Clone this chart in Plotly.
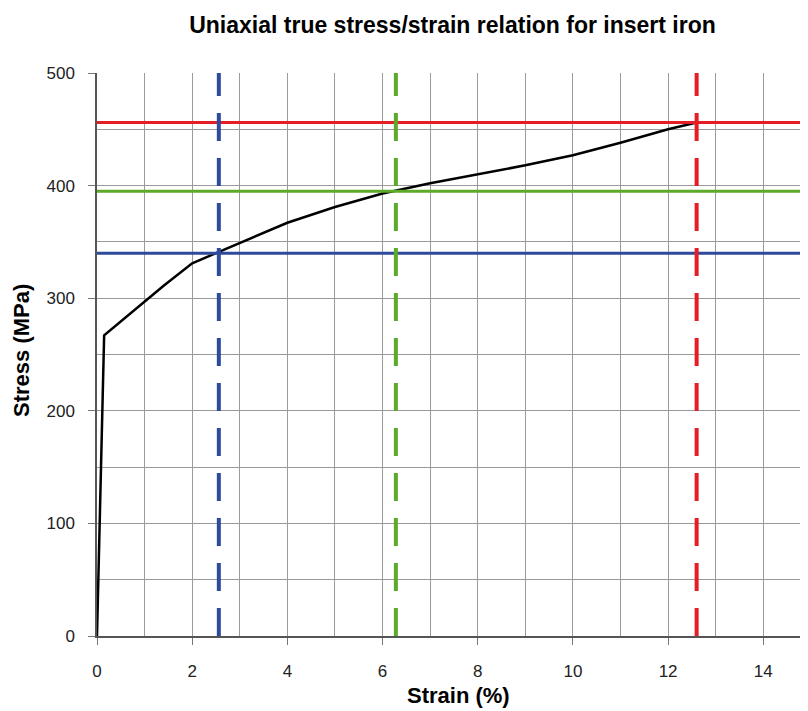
import plotly.graph_objects as go

# Curve data (strain %, stress MPa)
strain = [0, 0.15, 1.4, 2.0, 2.5, 3.0, 4.0, 5.0, 6.0, 7.0, 8.0, 9.0, 10.0, 11.0, 12.0, 12.6]
stress = [0, 267, 311, 331, 340, 349, 367, 381, 393, 402, 410, 418, 427, 438, 450, 456]

# Reference levels
h_levels = [340, 395, 456]        # blue, green, red horizontal lines
v_levels = [2.56, 6.28, 12.6]     # blue, green, red vertical dashed lines
level_colors = ["#2E4A9C", "#5BAA2A", "#E51E26"]

x_range = [0, 14.94]
y_range = [0, 500]

FONT = "Arial, Liberation Sans, Helvetica, sans-serif"

fig = go.Figure()

fig.add_trace(go.Scatter(x=strain, y=stress, mode="lines",
                         line=dict(color="black", width=2.5), showlegend=False,
                         hoverinfo="skip"))

for lvl, col in zip(h_levels, level_colors):
    fig.add_trace(go.Scatter(x=[x_range[0], x_range[1]], y=[lvl, lvl], mode="lines",
                             line=dict(color=col, width=3), showlegend=False,
                             hoverinfo="skip"))

for lvl, col in zip(v_levels, level_colors):
    fig.add_trace(go.Scatter(x=[lvl, lvl], y=[y_range[0], y_range[1]], mode="lines",
                             line=dict(color=col, width=4, dash="28px,17px"),
                             showlegend=False, hoverinfo="skip"))

fig.update_layout(
    width=800, height=703,
    margin=dict(l=89, r=0, t=65, b=75),
    paper_bgcolor="white", plot_bgcolor="white",
    font=dict(family=FONT, color="#222", size=17),
    title=dict(text="<b>Uniaxial true stress/strain relation for insert iron</b>",
               x=0.5, xref="paper", xanchor="center",
               y=0.976, yref="container", yanchor="middle",
               font=dict(size=23, color="black", family=FONT)),
    annotations=[
        dict(text="<b>Strain (%)</b>", xref="paper", yref="paper", x=0.509, y=-0.106,
             xanchor="center", yanchor="middle", showarrow=False,
             font=dict(size=22, color="black", family=FONT)),
        dict(text="<b>Stress (MPa)</b>", xref="paper", yref="paper", x=-0.1055, y=0.508,
             xanchor="center", yanchor="middle", showarrow=False, textangle=-90,
             font=dict(size=22, color="black", family=FONT)),
    ],
)

fig.update_xaxes(
    range=x_range, dtick=2, tick0=0, automargin=False,
    showgrid=True, gridcolor="#9a9a9a", gridwidth=1,
    minor=dict(dtick=1, showgrid=True, gridcolor="#9a9a9a", gridwidth=1),
    showline=True, linecolor="#555", linewidth=1.5, mirror=False,
    ticks="outside", ticklen=7, tickcolor="#777", tickwidth=1,
    ticklabelstandoff=12,
    zeroline=False,
    tickfont=dict(size=17, color="#222"),
)

fig.update_yaxes(
    range=y_range, dtick=100, tick0=0, automargin=False,
    showgrid=True, gridcolor="#9a9a9a", gridwidth=1,
    minor=dict(dtick=50, showgrid=True, gridcolor="#9a9a9a", gridwidth=1),
    showline=True, linecolor="#555", linewidth=1.5,
    ticks="outside", ticklen=7, tickcolor="#777", tickwidth=1,
    ticklabelstandoff=10,
    zeroline=False,
    tickfont=dict(size=17, color="#222"),
)

fig.write_html("out.html")
